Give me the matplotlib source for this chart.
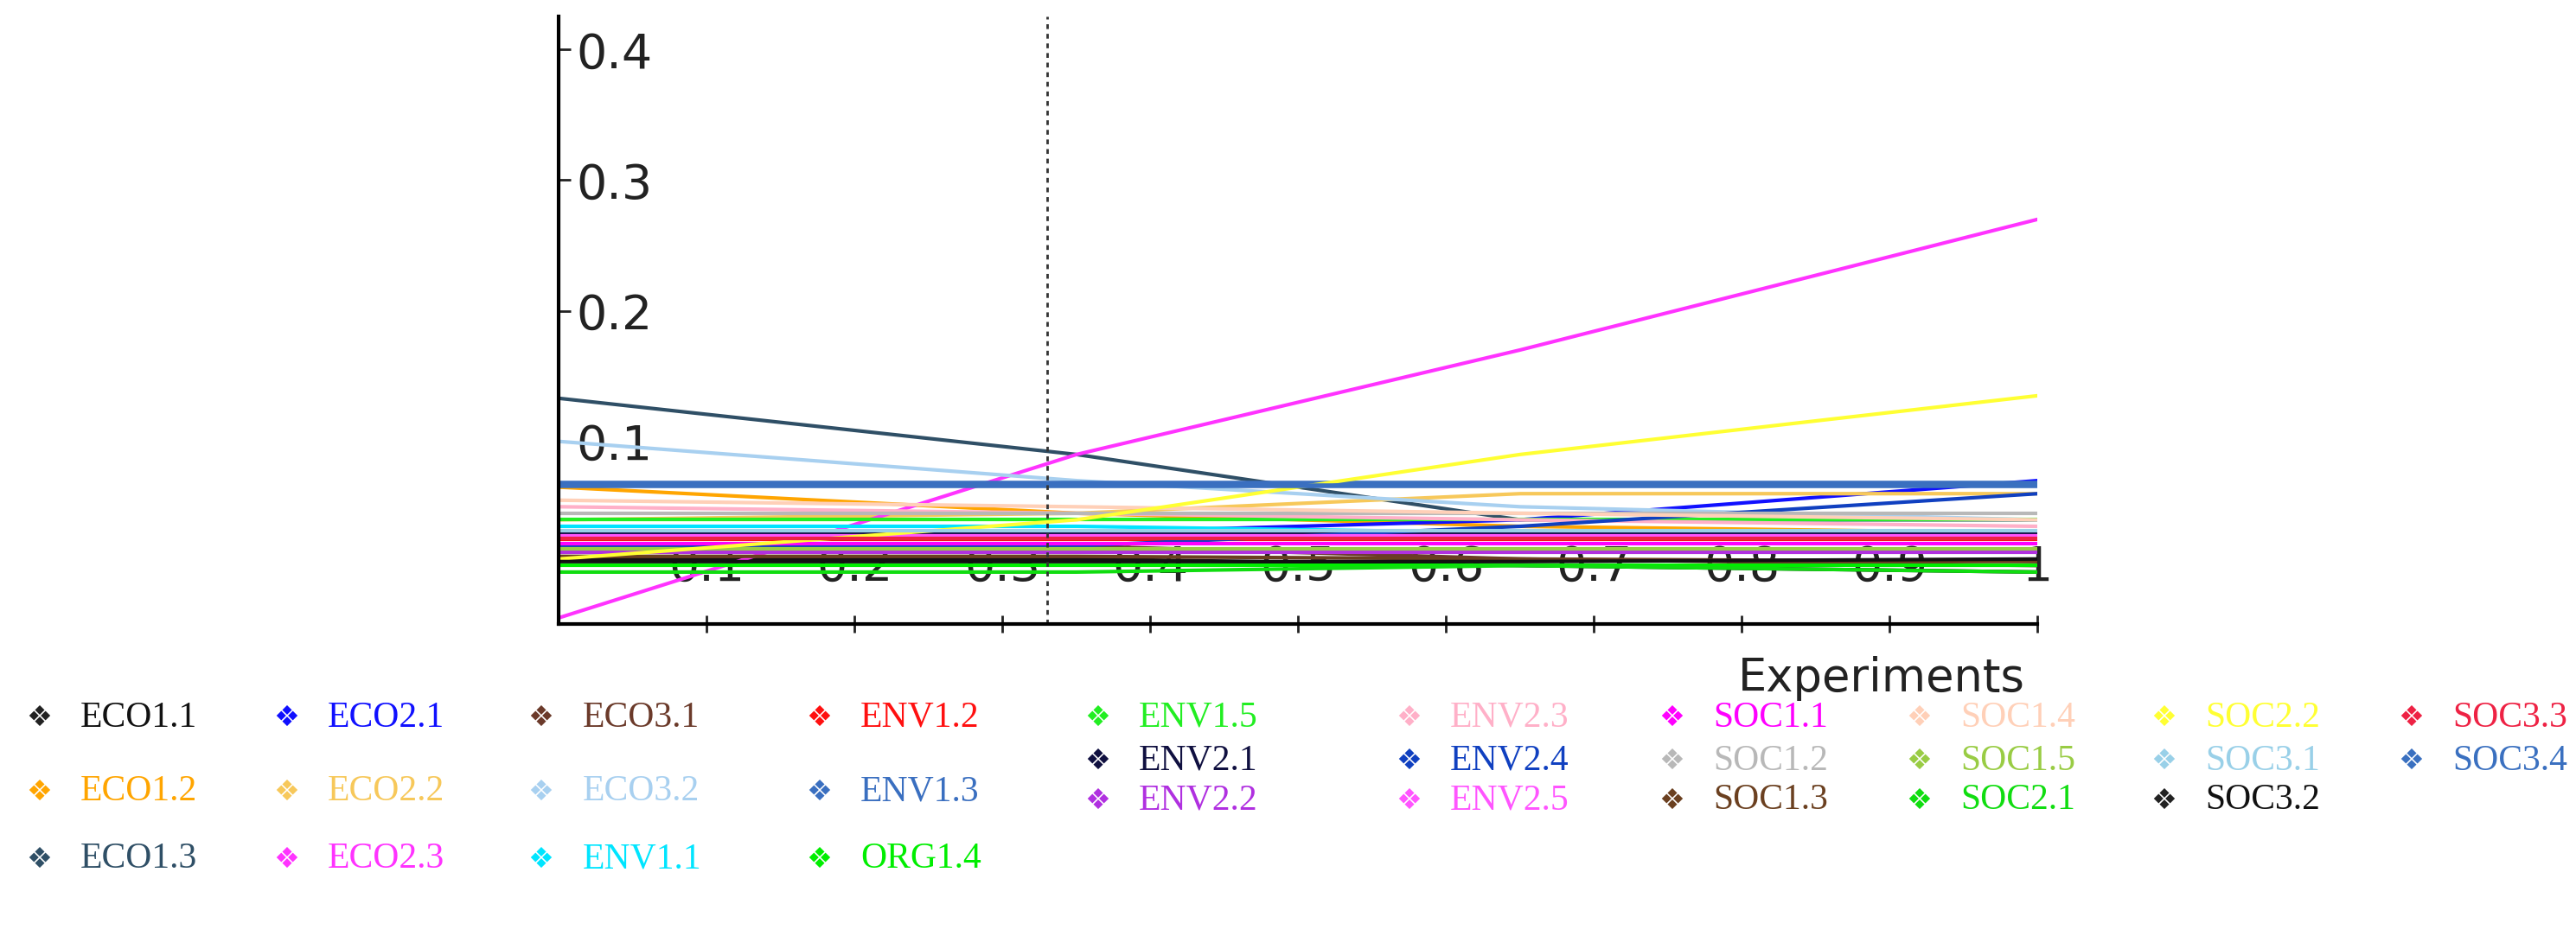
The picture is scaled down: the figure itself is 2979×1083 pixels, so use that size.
import matplotlib.pyplot as plt

# x positions where the lines change slope
x_points = [0, 0.35, 0.65, 1]

names = ['ECO1.1', 'ECO1.2', 'ECO1.3', 'ECO2.1', 'ECO2.2', 'ECO2.3', 'ECO3.1', 'ECO3.2',
         'ENV1.1', 'ENV1.2', 'ENV1.3', 'ORG1.4', 'ENV1.5', 'ENV2.1', 'ENV2.2', 'ENV2.3',
         'ENV2.4', 'ENV2.5', 'SOC1.1', 'SOC1.2', 'SOC1.3', 'SOC1.4', 'SOC1.5', 'SOC2.1',
         'SOC2.2', 'SOC3.1', 'SOC3.2', 'SOC3.3', 'SOC3.4']
colors = ['#111111', '#ffa500', '#2f4f66', '#1010ff', '#f7c85a', '#ff33ff', '#6b3a2a', '#a8d0f0',
          '#00e5ff', '#ff1010', '#3a6fc0', '#00ee00', '#22ee22', '#101040', '#b030e0', '#ffb0c8',
          '#1040c0', '#ff55ff', '#ff00ff', '#b8b8b8', '#6b4020', '#ffd0b8', '#99cc44', '#10dd10',
          '#a0b010', '#99d0e8', '#111111', '#ee2244', '#3a70c0']
values = [
    [0.010, 0.010, 0.005, 0.000],   # ECO1.1
    [0.065, 0.045, 0.035, 0.030],   # ECO1.2
    [0.133, 0.090, 0.040, 0.040],   # ECO1.3
    [0.030, 0.030, 0.040, 0.070],   # ECO2.1
    [0.040, 0.045, 0.060, 0.060],   # ECO2.2
    [-0.035, 0.090, 0.170, 0.270],  # ECO2.3
    [0.020, 0.020, 0.010, 0.005],   # ECO3.1
    [0.100, 0.070, 0.050, 0.040],   # ECO3.2
    [0.035, 0.035, 0.030, 0.030],   # ENV1.1
    [0.025, 0.025, 0.025, 0.025],   # ENV1.2
    [0.068, 0.068, 0.068, 0.068],   # ENV1.3
    [0.005, 0.005, 0.005, 0.005],   # ORG1.4
    [0.040, 0.040, 0.040, 0.040],   # ENV1.5
    [0.030, 0.030, 0.030, 0.030],   # ENV2.1
    [0.015, 0.015, 0.015, 0.015],   # ENV2.2
    [0.050, 0.045, 0.040, 0.035],   # ENV2.3
    [0.020, 0.020, 0.035, 0.060],   # ENV2.4
    [0.028, 0.028, 0.028, 0.028],   # ENV2.5
    [0.022, 0.022, 0.022, 0.022],   # SOC1.1
    [0.045, 0.045, 0.045, 0.045],   # SOC1.2
    [0.012, 0.012, 0.010, 0.008],   # SOC1.3
    [0.055, 0.050, 0.045, 0.040],   # SOC1.4
    [0.018, 0.018, 0.018, 0.018],   # SOC1.5
    [0.000, 0.000, 0.005, 0.000],   # SOC2.1
    [0.010, 0.040, 0.090, 0.135],   # SOC2.2 (yellow rising)
    [0.032, 0.032, 0.032, 0.032],   # SOC3.1
    [0.008, 0.008, 0.008, 0.010],   # SOC3.2
    [0.026, 0.026, 0.026, 0.026],   # SOC3.3
    [0.066, 0.066, 0.066, 0.066],   # SOC3.4
]
colors[24] = '#ffff33'

x_ticks = [0.1, 0.2, 0.3, 0.4, 0.5, 0.6, 0.7, 0.8, 0.9, 1]
x_labels = ['0.1', '0.2', '0.3', '0.4', '0.5', '0.6', '0.7', '0.8', '0.9', '1']
y_ticks = [0.1, 0.2, 0.3, 0.4]
marker_line = 0.33

# legend layout: (column x, row y) in figure fractions
legend_cols = [0.010, 0.106, 0.205, 0.313, 0.421, 0.542, 0.644, 0.740, 0.835, 0.931]
legend_order = [
    ['ECO1.1', 'ECO1.2', 'ECO1.3'],
    ['ECO2.1', 'ECO2.2', 'ECO2.3'],
    ['ECO3.1', 'ECO3.2', 'ENV1.1'],
    ['ENV1.2', 'ENV1.3', 'ORG1.4'],
    ['ENV1.5', 'ENV2.1', 'ENV2.2'],
    ['ENV2.3', 'ENV2.4', 'ENV2.5'],
    ['SOC1.1', 'SOC1.2', 'SOC1.3'],
    ['SOC1.4', 'SOC1.5', 'SOC2.1'],
    ['SOC2.2', 'SOC3.1', 'SOC3.2'],
    ['SOC3.3', 'SOC3.4'],
]
rows_wide = [0.233, 0.154, 0.082]
rows_tight = [0.233, 0.187, 0.145]

fig = plt.figure(figsize=(29.79, 10.83), dpi=100)
ax = fig.add_axes([0.217, 0.333, 0.574, 0.649])

for name, col, vals in zip(names, colors, values):
    lw = 4 if name in ('ENV1.3', 'SOC3.4') else 3
    ax.plot(x_points, vals, color=col, lw=lw)

ax.axvline(marker_line, color='#333333', ls=(0, (2, 2)), lw=2)

ax.set_xlim(0, 1)
ax.set_ylim(-0.04, 0.425)
for s in ['top', 'right']:
    ax.spines[s].set_visible(False)
ax.spines['left'].set_linewidth(3)
ax.spines['bottom'].set_linewidth(3)

ax.set_xticks(x_ticks)
ax.set_xticklabels(x_labels)
ax.tick_params(axis='x', direction='inout', length=14, width=2, pad=-74, labelsize=40, colors='#222222')
ax.set_yticks(y_ticks)
ax.set_yticklabels([f'{v:.1f}' for v in y_ticks])
ax.tick_params(axis='y', direction='in', length=10, width=2, pad=-14, labelsize=40, colors='#222222')
for lab in ax.get_yticklabels():
    lab.set_ha('left')

fig.text(0.786, 0.275, 'Experiments', ha='right', va='center', fontsize=38, color='#222222')

lookup = dict(zip(names, colors))
for i, (cx, col_names) in enumerate(zip(legend_cols, legend_order)):
    rows = rows_tight if i >= 4 else rows_wide
    for ry, nm in zip(rows, col_names):
        fig.text(cx, ry, '\u2756', color='#222222' if lookup[nm] == '#111111' else lookup[nm],
                 fontsize=24, va='center', family='DejaVu Sans')
        fig.text(cx + 0.021, ry, nm, color=lookup[nm], fontsize=30, va='center',
                 family='Liberation Serif')

fig.savefig('out.png', dpi=100)
